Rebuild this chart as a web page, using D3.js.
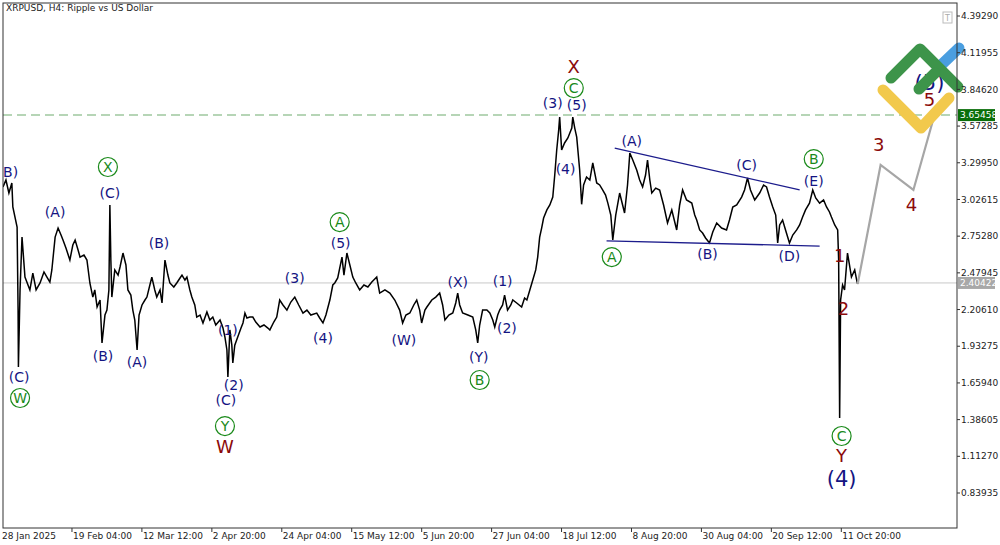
<!DOCTYPE html>
<html><head><meta charset="utf-8">
<script src="https://cdn.jsdelivr.net/npm/d3@7"></script>
<style>body{margin:0;background:#fff}svg{display:block;font-family:Tahoma,"DejaVu Sans",sans-serif}</style>
</head><body><svg id="c" width="1000" height="545"></svg>
<script>
// ---- data (days since chart start, price) ----
const days = [0,0.9,1.8,2.7,3.0,4.3,4.6,4.7,5.2,5.8,6.7,8.2,9.1,10.1,11.3,12.5,13.4,14.3,14.9,15.9,16.8,17.7,18.3,19.2,20.4,21.3,22.0,22.9,23.5,24.7,25.6,26.5,27.4,28.0,28.7,29.6,30.2,31.1,31.7,32.3,32.6,32.9,33.2,34.1,35.1,35.7,36.6,37.5,38.1,39.0,39.6,40.2,40.9,41.5,42.4,43.3,43.9,44.8,45.4,46.3,46.9,47.9,48.5,49.4,50.3,50.9,52.1,53.0,54.0,54.6,55.5,56.1,57.0,57.6,58.5,59.1,60.1,61.0,62.2,63.1,64.0,64.9,66.2,67.1,67.7,68.3,68.6,69.2,69.8,70.1,70.7,71.6,72.6,73.2,73.8,74.4,75.3,76.2,77.1,78.4,79.6,80.8,81.4,82.6,83.5,84.4,85.4,86.6,87.8,89.0,90.2,91.5,92.7,93.9,95.7,96.6,97.6,98.5,99.7,100.6,101.2,102.1,103.4,104.0,104.9,105.8,106.7,107.6,108.8,110.1,111.3,112.5,114.0,114.9,116.5,118.0,119.5,121.0,121.9,122.9,124.1,125.3,126.2,127.1,127.7,128.7,129.3,130.8,132.0,133.2,134.1,134.8,136.0,137.2,138.1,138.7,139.3,140.2,141.8,143.3,144.2,144.8,145.4,146.3,147.6,148.5,149.4,150.0,150.9,151.5,152.4,153.0,153.9,154.9,155.5,156.7,158.2,159.1,159.8,160.7,161.6,162.5,163.1,163.7,164.3,164.9,165.9,166.8,167.7,168.3,168.9,169.5,169.8,170.4,171.3,172.3,172.9,173.5,173.8,174.4,175.0,175.9,176.5,177.1,178.0,179.0,179.9,181.1,182.0,182.9,183.8,184.5,185.4,186.0,186.9,188.1,189.0,189.6,190.5,191.2,192.1,193.3,194.2,195.1,196.0,196.6,197.3,197.9,199.1,200.3,201.5,202.7,204.0,205.5,206.4,207.3,208.5,210.1,211.0,211.6,212.5,213.4,214.3,215.5,216.5,217.7,219.2,220.7,221.6,222.6,223.8,225.3,226.2,227.1,228.0,229.3,230.8,232.0,232.9,233.8,234.8,235.7,236.3,236.9,237.8,238.7,239.9,240.9,242.1,243.0,243.9,244.8,246.0,247.0,247.9,249.1,250.3,251.2,252.1,252.7,253.7,254.6,254.9,255.2,255.5,256.1,256.7,257.6,258.2,258.8,259.8,260.4,260.7];
const prices = [3.119,3.171,3.074,3.149,2.970,2.821,2.202,1.778,2.352,2.746,2.448,2.352,2.478,2.352,2.404,2.486,2.448,2.411,2.501,2.746,2.813,2.761,2.724,2.664,2.575,2.687,2.724,2.650,2.597,2.612,2.575,2.404,2.299,2.352,2.225,2.277,1.957,2.165,2.202,2.352,2.985,2.575,2.299,2.501,2.463,2.523,2.627,2.538,2.352,2.314,2.202,2.128,1.905,2.165,2.240,2.277,2.299,2.389,2.448,2.352,2.299,2.352,2.255,2.575,2.463,2.404,2.374,2.404,2.441,2.463,2.426,2.448,2.352,2.299,2.240,2.150,2.165,2.106,2.188,2.128,2.150,2.091,2.128,2.068,2.001,1.905,1.703,2.054,1.941,1.808,1.941,2.001,2.068,2.106,2.180,2.143,2.150,2.150,2.113,2.076,2.091,2.068,2.054,2.113,2.150,2.277,2.240,2.202,2.262,2.299,2.240,2.180,2.202,2.165,2.180,2.143,2.106,2.165,2.277,2.389,2.404,2.441,2.597,2.463,2.627,2.538,2.448,2.404,2.352,2.389,2.374,2.411,2.448,2.329,2.352,2.329,2.277,2.202,2.106,2.165,2.180,2.240,2.277,2.202,2.106,2.202,2.225,2.277,2.299,2.329,2.240,2.128,2.165,2.180,2.255,2.329,2.240,2.180,2.165,2.150,2.054,1.957,2.091,2.202,2.202,2.180,2.128,2.076,2.165,2.202,2.240,2.314,2.202,2.240,2.277,2.255,2.225,2.292,2.277,2.352,2.426,2.501,2.597,2.746,2.813,2.888,2.948,2.985,3.044,3.208,3.395,3.543,3.640,3.395,3.447,3.484,3.521,3.558,3.640,3.558,3.491,3.246,2.990,3.134,3.193,3.171,3.298,3.149,3.134,3.097,3.059,2.999,2.910,2.724,2.910,3.074,2.985,2.925,3.134,3.372,3.320,3.246,3.171,3.119,3.208,3.320,3.171,3.074,3.111,3.097,2.985,2.851,2.948,2.799,2.985,3.097,3.022,2.999,2.910,2.873,2.799,2.776,2.739,2.702,2.784,2.851,2.813,2.799,2.873,2.970,2.985,3.044,3.097,3.186,3.097,3.022,3.074,3.134,3.119,3.044,2.970,2.910,2.702,2.836,2.873,2.799,2.702,2.761,2.799,2.836,2.895,2.948,2.999,3.097,3.037,2.999,3.022,2.970,2.933,2.895,2.836,2.799,2.575,1.398,2.277,2.389,2.352,2.627,2.538,2.448,2.501,2.426,2.396];
const forecastDays = [260.7,267.7,277.7,284.3];
const forecastPrices = [2.396,3.283,3.097,3.670];
const priceTicks = [4.39290,4.11955,3.84620,3.57285,3.29950,3.02615,2.75280,2.47945,2.20610,1.93275,1.65940,1.38605,1.11270,0.83935];
const timeTickLabels = ["19 Feb 04:00","12 Mar 12:00","2 Apr 20:00","24 Apr 04:00","15 May 12:00","5 Jun 20:00","27 Jun 04:00","18 Jul 12:00","8 Aug 20:00","30 Aug 04:00","20 Sep 12:00","11 Oct 20:00"];
const timeTickDays = [21.04,42.37,63.71,85.04,106.37,127.71,149.04,170.37,191.71,213.04,234.37,255.71];
const currentPrice = 2.40422, levelPrice = 3.65458;
const trendUpper = [[186.6,3.409],[243.0,3.097]];
const trendLower = [[184.1,2.717],[249.1,2.679]];
// labels: [text, day, price, kind]  kind: n=navy paren, g=green circled, r=dark red, N=big navy
const labels = [
 ["(B)",1.5,3.231,"n"],["(A)",15.9,2.933,"n"],["(C)",32.6,3.074,"n"],["(B)",30.5,1.860,"n"],["(C)",4.9,1.703,"n"],
 ["(B)",47.6,2.702,"n"],["(A)",40.9,1.815,"n"],["(1)",68.6,2.054,"n"],["(2)",70.4,1.644,"n"],["(C)",68.0,1.532,"n"],
 ["(3)",89.0,2.441,"n"],["(4)",97.6,1.994,"n"],["(5)",103.0,2.702,"n"],["(W)",122.3,1.979,"n"],["(X)",138.7,2.411,"n"],
 ["(Y)",145.1,1.852,"n"],["(1)",152.4,2.419,"n"],["(2)",153.7,2.068,"n"],["(3)",167.7,3.745,"n"],["(5)",175.0,3.730,"n"],
 ["(4)",171.6,3.253,"n"],["(A)",191.8,3.462,"n"],["(C)",226.8,3.283,"n"],["(E)",247.3,3.164,"n"],["(B)",214.9,2.620,"n"],["(D)",239.9,2.605,"n"],
 ["W",5.2,1.547,"g"],["X",32.0,3.268,"g"],["Y",67.7,1.338,"g"],["A",102.7,2.858,"g"],["B",145.4,1.681,"g"],["C",174.1,3.856,"g"],
 ["A",185.7,2.597,"g"],["B",247.3,3.327,"g"],["C",255.8,1.264,"g"],
 ["W",67.7,1.182,"r"],["X",174.1,4.013,"r"],["Y",255.8,1.115,"r"],["1",255.2,2.612,"r"],["2",256.4,2.217,"r"],
 ["3",267.1,3.432,"r"],["4",277.1,2.992,"r"],["5",282.6,3.767,"r"],
 ["(4)",255.8,0.951,"N"],["(5)",282.6,3.901,"N"]
];

const svg = d3.select("#c");
const L=3,R=957,T=3,B=528;
const x = d3.scaleLinear().domain([0,291]).range([L,R]);
const y = d3.scaleLinear().domain([0.83935,4.3929]).range([493,16]);

svg.append("defs").append("clipPath").attr("id","clip").append("rect").attr("x",L).attr("y",T).attr("width",R-L).attr("height",B-T);
const g = svg.append("g").attr("clip-path","url(#clip)");

g.append("line").attr("x1",L).attr("x2",R).attr("y1",y(currentPrice)).attr("y2",y(currentPrice)).attr("stroke","#c8c8c8").attr("stroke-width",1);
g.append("line").attr("x1",L).attr("x2",R).attr("y1",y(levelPrice)).attr("y2",y(levelPrice)).attr("stroke","#9fc79f").attr("stroke-width",1.5).attr("stroke-dasharray","9,5");

const pts = days.map((d,i)=>[d,prices[i]]);
const line = d3.line().x(d=>x(d[0])).y(d=>y(d[1]));
g.append("path").attr("d",line(pts)).attr("fill","none").attr("stroke","#000").attr("stroke-width",1.5).attr("stroke-linejoin","miter");

[trendUpper,trendLower].forEach(t=>g.append("path").attr("d",line(t)).attr("stroke","#1c1c8c").attr("stroke-width",1.3).attr("fill","none"));

g.append("path").attr("d",line(forecastDays.map((d,i)=>[d,forecastPrices[i]]))).attr("fill","none").attr("stroke","#a6a6a6").attr("stroke-width",2.2);

labels.forEach(([t,d,p,k])=>{
  const cx=x(d), cy=y(p);
  if(k==="g"){
    g.append("circle").attr("cx",cx).attr("cy",cy).attr("r",9.5).attr("fill","none").attr("stroke","#1a8a1a").attr("stroke-width",1.2);
    g.append("text").attr("x",cx).attr("y",cy).attr("dy","0.36em").attr("text-anchor","middle").attr("fill","#1a8a1a").attr("font-size",14).text(t);
  } else {
    const col = k==="r" ? "#8b0a0a" : "#141482";
    const fs = k==="r" ? 18 : k==="N" ? 21 : 14;
    g.append("text").attr("x",cx).attr("y",cy).attr("dy","0.36em").attr("text-anchor","middle").attr("fill",col).attr("font-size",fs).text(t);
  }
});

const lg = svg.append("g").attr("fill","none").attr("stroke-linecap","round").attr("stroke-linejoin","round").attr("stroke-width",11);
lg.append("path").attr("d","M883,90 L921,128 L949,98").attr("stroke","#f2c94c");
lg.append("path").attr("d","M938,68 L959,48").attr("stroke","#4a9ee0");
lg.append("path").attr("d","M891,78 L920,49 L958,87").attr("stroke","#3d944a");
lg.append("path").attr("d","M919,89 L935,73").attr("stroke","#3d944a");

svg.append("rect").attr("x",L).attr("y",T).attr("width",R-L).attr("height",B-T).attr("fill","none").attr("stroke","#333").attr("stroke-width",1);

svg.append("text").attr("x",6).attr("y",11).attr("font-size",9).attr("fill","#222").text("XRPUSD, H4:  Ripple vs US Dollar");
svg.append("rect").attr("x",943).attr("y",12).attr("width",9).attr("height",11).attr("fill","#fff").attr("stroke","#bbb");
svg.append("text").attr("x",947.5).attr("y",21).attr("text-anchor","middle").attr("font-size",8).attr("fill","#aaa").text("T");

const ra = svg.append("g");
priceTicks.forEach(p=>{
  ra.append("line").attr("x1",R).attr("x2",R+3).attr("y1",y(p)).attr("y2",y(p)).attr("stroke","#333");
  ra.append("text").attr("x",R+4).attr("y",y(p)).attr("dy","0.35em").attr("font-size",9).attr("fill","#222").text(p.toFixed(5));
});
[[levelPrice,"#0a6e0a"],[currentPrice,"#a8a8a8"]].forEach(([p,c])=>{
  ra.append("rect").attr("x",R+1).attr("y",y(p)-6).attr("width",37).attr("height",12).attr("fill",c);
  ra.append("text").attr("x",R+3).attr("y",y(p)).attr("dy","0.35em").attr("font-size",9).attr("fill","#fff").text(p.toFixed(5));
});

svg.append("text").attr("x",2).attr("y",539).attr("font-size",9).attr("fill","#222").text("28 Jan 2025");
timeTickDays.forEach((d,i)=>{
  svg.append("line").attr("x1",x(d)).attr("x2",x(d)).attr("y1",B).attr("y2",B+4).attr("stroke","#333");
  svg.append("text").attr("x",x(d)+1).attr("y",539).attr("font-size",9).attr("fill","#222").text(timeTickLabels[i]);
});
</script></body></html>
